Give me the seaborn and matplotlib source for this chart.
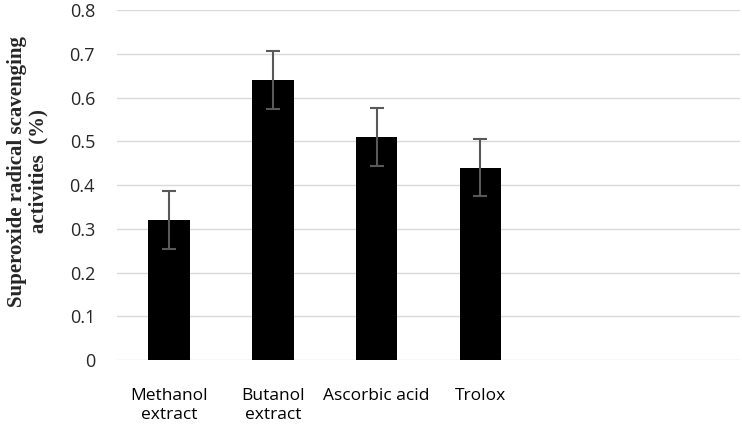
import pandas as pd
import matplotlib.pyplot as plt
import seaborn as sns

sns.set_theme(style="whitegrid")

samples = ['Methanol\nextract', 'Butanol\nextract', 'Ascorbic acid', 'Trolox']
activity = [0.32, 0.64, 0.51, 0.44]
error = [0.066, 0.066, 0.066, 0.066]

df = pd.DataFrame({'sample': samples, 'activity': activity, 'err': error})

fig = plt.figure(figsize=(7.42, 4.25), dpi=100)
ax = fig.add_axes([0.158, 0.153, 0.839, 0.823])

sns.barplot(x='sample', y='activity', data=df, ax=ax, color='black',
            width=0.4, errorbar=None, saturation=1, linewidth=0)
ax.errorbar(range(len(samples)), df['activity'], yerr=df['err'], fmt='none',
            ecolor='#595959', elinewidth=1.5, capsize=5, capthick=1.5)

# two empty slots on the right, as in the original
ax.set_xlim(-0.5, 5.5)
ax.set_ylim(0, 0.8)
ax.set_yticks([i / 10 for i in range(9)])
ax.set_yticklabels(['0'] + [f'{i / 10:.1f}' for i in range(1, 9)])

ax.grid(axis='y', color='#d9d9d9', linewidth=1)
ax.grid(axis='x', visible=False)
for s in ax.spines.values():
    s.set_visible(False)
ax.set_axisbelow(True)

ax.tick_params(axis='y', labelsize=13, pad=16, length=0, labelcolor='#262626')
ax.tick_params(axis='x', labelsize=12.5, pad=20, length=0, labelcolor='black')
for lab in ax.get_xticklabels() + ax.get_yticklabels():
    lab.set_family(['Open Sans', 'DejaVu Sans'])
for lab in ax.get_xticklabels():
    lab.set_linespacing(1.3)

ax.set_xlabel('')
ax.set_ylabel('Superoxide radical scavenging\nactivities  (%)',
              family=['Liberation Serif', 'DejaVu Serif'], fontweight='bold',
              fontsize=15, linespacing=1.1)
ax.yaxis.set_label_coords(-0.11, 0.54)

fig.savefig('out.png', dpi=100)
